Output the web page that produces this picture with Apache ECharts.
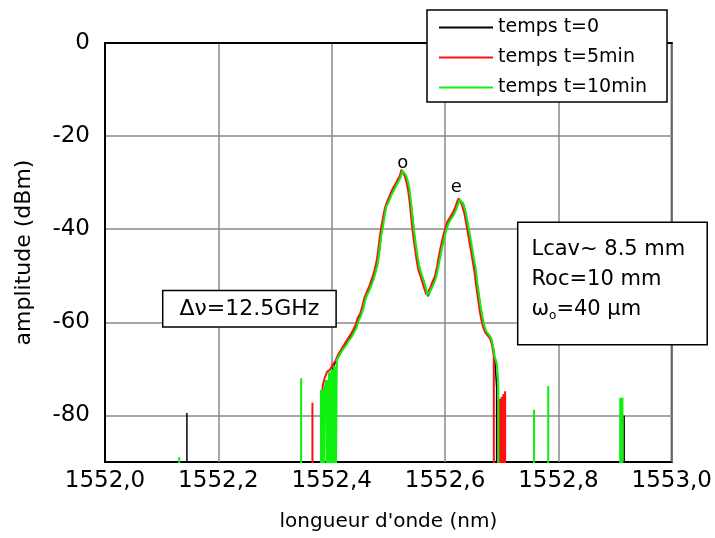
<!DOCTYPE html>
<html>
<head>
<meta charset="utf-8">
<script src="https://cdn.jsdelivr.net/npm/echarts@6/dist/echarts.min.js"></script>
<style>
    html, body { margin: 0; padding: 0; background: #fff; }
    #chart { width: 715px; height: 538px; }
</style>
</head>
<body>
<div id="chart"></div>
<script>
const FONT = "DejaVu Sans";
// valeur sous le bas de l'axe : le trait plonge hors du graphe
const FLOOR = -120;

const seriesNames = ["temps t=0", "temps t=5min", "temps t=10min"];
const yTicks = [0, -20, -40, -60, -80];

/** temps t=0 */
const lamK = [
    1552.397, 1552.400, 1552.405, 1552.412, 1552.420, 1552.428, 1552.436, 1552.444, 1552.450, 1552.457,
    1552.462, 1552.468, 1552.474, 1552.480, 1552.484, 1552.488, 1552.492, 1552.497, 1552.503, 1552.509,
    1552.515, 1552.520, 1552.524, 1552.527, 1552.531, 1552.535, 1552.539, 1552.543, 1552.547, 1552.551,
    1552.556, 1552.562, 1552.567, 1552.570, 1552.575, 1552.581, 1552.586, 1552.591, 1552.596, 1552.601,
    1552.607, 1552.614, 1552.620, 1552.625, 1552.628, 1552.632, 1552.637, 1552.642, 1552.647, 1552.652,
    1552.657, 1552.662, 1552.667, 1552.672, 1552.678, 1552.683, 1552.686, 1552.689, 1552.691,
];
const ampK = [
    -72.8, -70.4, -69.0, -67.4, -65.6, -63.8, -62.6, -60.4, -58.6, -56.0,
    -54.2, -52.6, -50.4, -47.8, -44.8, -40.6, -37.0, -34.8, -33.0, -31.4,
    -30.0, -28.8, -27.6, -27.9, -28.8, -31.0, -33.8, -37.6, -42.6, -46.0,
    -49.0, -51.0, -53.4, -54.4, -53.0, -51.0, -48.6, -45.6, -42.4, -40.0,
    -38.2, -36.8, -35.4, -33.8, -33.6, -34.4, -36.8, -40.6, -44.6, -48.0,
    -52.0, -56.2, -60.0, -62.0, -62.8, -64.4, -66.0, -70.0, -74.0,
];
const spikeLamK = [1552.1445, 1552.916];
const spikeAmpK = [-79.5, -80.0];

/** temps t=5min */
const lamR = [
    1552.384, 1552.388, 1552.392, 1552.397, 1552.402, 1552.407, 1552.411, 1552.417, 1552.423, 1552.428,
    1552.433, 1552.438, 1552.442, 1552.446, 1552.450, 1552.454, 1552.458, 1552.463, 1552.467, 1552.472,
    1552.476, 1552.479, 1552.482, 1552.485, 1552.488, 1552.491, 1552.494, 1552.498, 1552.503, 1552.508,
    1552.513, 1552.517, 1552.520, 1552.523, 1552.526, 1552.529, 1552.532, 1552.535, 1552.538, 1552.541,
    1552.544, 1552.547, 1552.550, 1552.553, 1552.557, 1552.561, 1552.564, 1552.567, 1552.570, 1552.574,
    1552.578, 1552.582, 1552.586, 1552.589, 1552.592, 1552.596, 1552.600, 1552.604, 1552.608, 1552.613,
    1552.617, 1552.621, 1552.624, 1552.627, 1552.630, 1552.634, 1552.638, 1552.642, 1552.646, 1552.649,
    1552.652, 1552.655, 1552.658, 1552.661, 1552.664, 1552.667, 1552.671, 1552.675, 1552.680, 1552.683,
    1552.686,
];
const ampR = [
    -73.6, -71.8, -70.6, -70.2, -69.0, -68.2, -67.0, -65.8, -64.6, -63.6,
    -62.7, -61.6, -60.6, -59.0, -58.2, -56.6, -54.6, -53.2, -52.0, -50.2,
    -48.6, -47.0, -44.6, -41.5, -39.2, -37.2, -35.4, -34.0, -32.6, -31.2,
    -30.2, -29.2, -28.6, -27.2, -27.6, -28.6, -29.9, -31.8, -34.6, -38.4,
    -41.6, -44.2, -46.8, -48.8, -50.2, -51.8, -53.0, -54.0, -53.8, -52.6,
    -51.2, -50.2, -48.0, -45.8, -44.0, -41.8, -40.0, -38.4, -37.6, -36.6,
    -35.6, -34.2, -33.4, -33.9, -34.9, -36.6, -39.2, -42.0, -44.8, -47.0,
    -49.2, -52.2, -54.8, -57.4, -59.4, -61.0, -62.2, -62.8, -63.6, -65.0,
    -67.2,
];
const spikeLamR = [1552.366, 1552.694, 1552.697, 1552.700, 1552.703, 1552.706];
const spikeAmpR = [-77.3, -76.7, -76.4, -76.0, -75.4, -74.8];

/** temps t=10min */
const lamG = [
    1552.387, 1552.390, 1552.395, 1552.400, 1552.404, 1552.409, 1552.413, 1552.419, 1552.425, 1552.430,
    1552.435, 1552.440, 1552.443, 1552.448, 1552.452, 1552.456, 1552.460, 1552.465, 1552.469, 1552.474,
    1552.478, 1552.481, 1552.484, 1552.487, 1552.490, 1552.493, 1552.496, 1552.500, 1552.505, 1552.510,
    1552.515, 1552.519, 1552.522, 1552.525, 1552.528, 1552.531, 1552.534, 1552.537, 1552.540, 1552.543,
    1552.546, 1552.549, 1552.552, 1552.555, 1552.559, 1552.563, 1552.566, 1552.569, 1552.572, 1552.576,
    1552.580, 1552.584, 1552.588, 1552.591, 1552.594, 1552.598, 1552.602, 1552.606, 1552.610, 1552.615,
    1552.619, 1552.623, 1552.626, 1552.629, 1552.632, 1552.636, 1552.640, 1552.644, 1552.648, 1552.651,
    1552.654, 1552.657, 1552.660, 1552.663, 1552.666, 1552.669, 1552.673, 1552.677, 1552.682, 1552.685,
    1552.688, 1552.691, 1552.694,
];
const ampG = [
    -74.5, -72.4, -70.7, -70.0, -69.3, -68.0, -67.2, -66.0, -65.0, -64.0,
    -63.2, -62.0, -61.4, -59.5, -58.5, -57.0, -54.8, -53.5, -52.4, -50.8,
    -49.0, -47.6, -45.0, -41.7, -39.8, -37.5, -35.3, -34.3, -32.8, -31.6,
    -30.4, -29.5, -28.7, -27.4, -27.8, -28.4, -29.5, -31.2, -34.2, -37.8,
    -41.0, -43.7, -46.2, -48.3, -49.8, -51.3, -52.6, -54.2, -53.6, -52.8,
    -51.7, -50.5, -48.3, -46.3, -44.4, -42.3, -40.3, -38.8, -37.9, -37.0,
    -36.0, -34.6, -33.6, -33.8, -34.6, -36.0, -38.6, -41.3, -44.2, -46.4,
    -48.3, -51.5, -54.2, -56.7, -58.8, -60.6, -62.0, -62.6, -63.5, -65.5,
    -67.6, -68.6, -73.0,
];
const spikeLamG = [
    1552.131, 1552.346, 1552.381, 1552.383, 1552.385, 1552.392, 1552.398, 1552.402, 1552.406,
    1552.757, 1552.782, 1552.909, 1552.911, 1552.913,
];
const spikeAmpG = [
    -89.0, -72.0, -74.5, -74.5, -74.5, -72.4, -70.8, -70.1, -69.5,
    -78.8, -73.7, -76.2, -76.2, -76.2,
];

/** repères des pics */
const peakNames = ["o", "e"];
const peakLam = [1552.5255, 1552.620];
const peakAmp = [-25.8, -30.9];

/** encadrés (le second est ancré par son bord gauche) */
const boxLam = [1552.2548, 1552.7295];
const boxAmp = [-57.1, -51.65];

// courbe + pics de bruit, triés par longueur d'onde
function trace(lam, amp, spikeLam, spikeAmp) {
    const pts = [[lam[0], FLOOR]];
    lam.forEach((x, i) => pts.push([x, amp[i]]));
    pts.push([lam[lam.length - 1], FLOOR]);
    spikeLam.forEach((x, i) => {
        pts.push([x, FLOOR], [x, spikeAmp[i]], [x, FLOOR]);
    });
    return pts.sort((a, b) => a[0] - b[0]);
}

const textBase = { fontFamily: FONT, color: "#000" };

const option = {
    animation: false,
    backgroundColor: "#fff",
    grid: {
        left: 105,
        right: 41,
        top: 43,
        bottom: 76,
        show: true,
        borderColor: "#000",
        borderWidth: 2,
    },
    legend: {
        orient: "vertical",
        left: 427,
        top: 10,
        backgroundColor: "#fff",
        borderColor: "#000",
        borderWidth: 1.5,
        padding: [8, 20, 5, 12],
        icon: "rect",
        itemGap: 11,
        itemWidth: 54,
        itemHeight: 2,
        textStyle: { ...textBase, fontSize: 19, lineHeight: 19 },
        data: seriesNames,
    },
    xAxis: {
        type: "value",
        min: 1552,
        max: 1553,
        interval: 0.2,
        name: "longueur d'onde (nm)",
        nameLocation: "middle",
        nameGap: 50,
        nameTextStyle: { ...textBase, fontSize: 20 },
        axisLine: { lineStyle: { color: "#000", width: 2 } },
        axisTick: { show: false },
        axisLabel: {
            ...textBase,
            fontSize: 23,
            margin: 8,
            formatter: (v) => v.toFixed(1).replace(".", ","),
        },
        splitLine: { lineStyle: { color: "#8a8a8a", width: 1.5 } },
    },
    yAxis: {
        type: "value",
        min: -90,
        max: 0,
        name: "amplitude (dBm)",
        nameLocation: "middle",
        nameGap: 70,
        nameTextStyle: { ...textBase, fontSize: 22 },
        axisLine: { lineStyle: { color: "#000", width: 2 } },
        axisTick: { show: false, customValues: yTicks },
        axisLabel: { ...textBase, fontSize: 23, margin: 15, customValues: yTicks },
        splitLine: { lineStyle: { color: "#8a8a8a", width: 1.5 } },
    },
    series: [
        {
            name: seriesNames[0],
            type: "line",
            symbol: "none",
            lineStyle: { color: "#000", width: 1.5 },
            itemStyle: { color: "#000" },
            data: trace(lamK, ampK, spikeLamK, spikeAmpK),
        },
        {
            name: seriesNames[1],
            type: "line",
            symbol: "none",
            lineStyle: { color: "#ff1010", width: 2 },
            itemStyle: { color: "#ff1010" },
            data: trace(lamR, ampR, spikeLamR, spikeAmpR),
        },
        {
            name: seriesNames[2],
            type: "line",
            symbol: "none",
            lineStyle: { color: "#10f010", width: 2 },
            itemStyle: { color: "#10f010" },
            data: trace(lamG, ampG, spikeLamG, spikeAmpG),
            markPoint: {
                symbol: "circle",
                symbolSize: 0,
                silent: true,
                label: { ...textBase, position: "inside", fontSize: 18 },
                data: [
                    ...peakNames.map((n, i) => ({
                        coord: [peakLam[i], peakAmp[i]],
                        label: { formatter: n },
                    })),
                    {
                        coord: [boxLam[0], boxAmp[0]],
                        label: {
                            formatter: "Δν=12.5GHz",
                            fontSize: 22,
                            backgroundColor: "#fff",
                            borderColor: "#000",
                            borderWidth: 1.5,
                            padding: [7, 16, 6, 16],
                        },
                    },
                    {
                        coord: [boxLam[1], boxAmp[1]],
                        label: {
                            formatter: "Lcav~ 8.5 mm\nRoc=10 mm\nω{sub|o}=40 μm",
                            fontSize: 21,
                            lineHeight: 30,
                            align: "left",
                            width: 160,
                            backgroundColor: "#fff",
                            borderColor: "#000",
                            borderWidth: 1.5,
                            padding: [12, 15, 19, 13],
                            rich: {
                                sub: { fontFamily: FONT, fontSize: 12, color: "#000", padding: [12, 0, 0, 0] },
                            },
                        },
                    },
                ],
            },
        },
    ],
};

const chart = echarts.init(document.getElementById("chart"));
chart.setOption(option);
</script>
</body>
</html>
